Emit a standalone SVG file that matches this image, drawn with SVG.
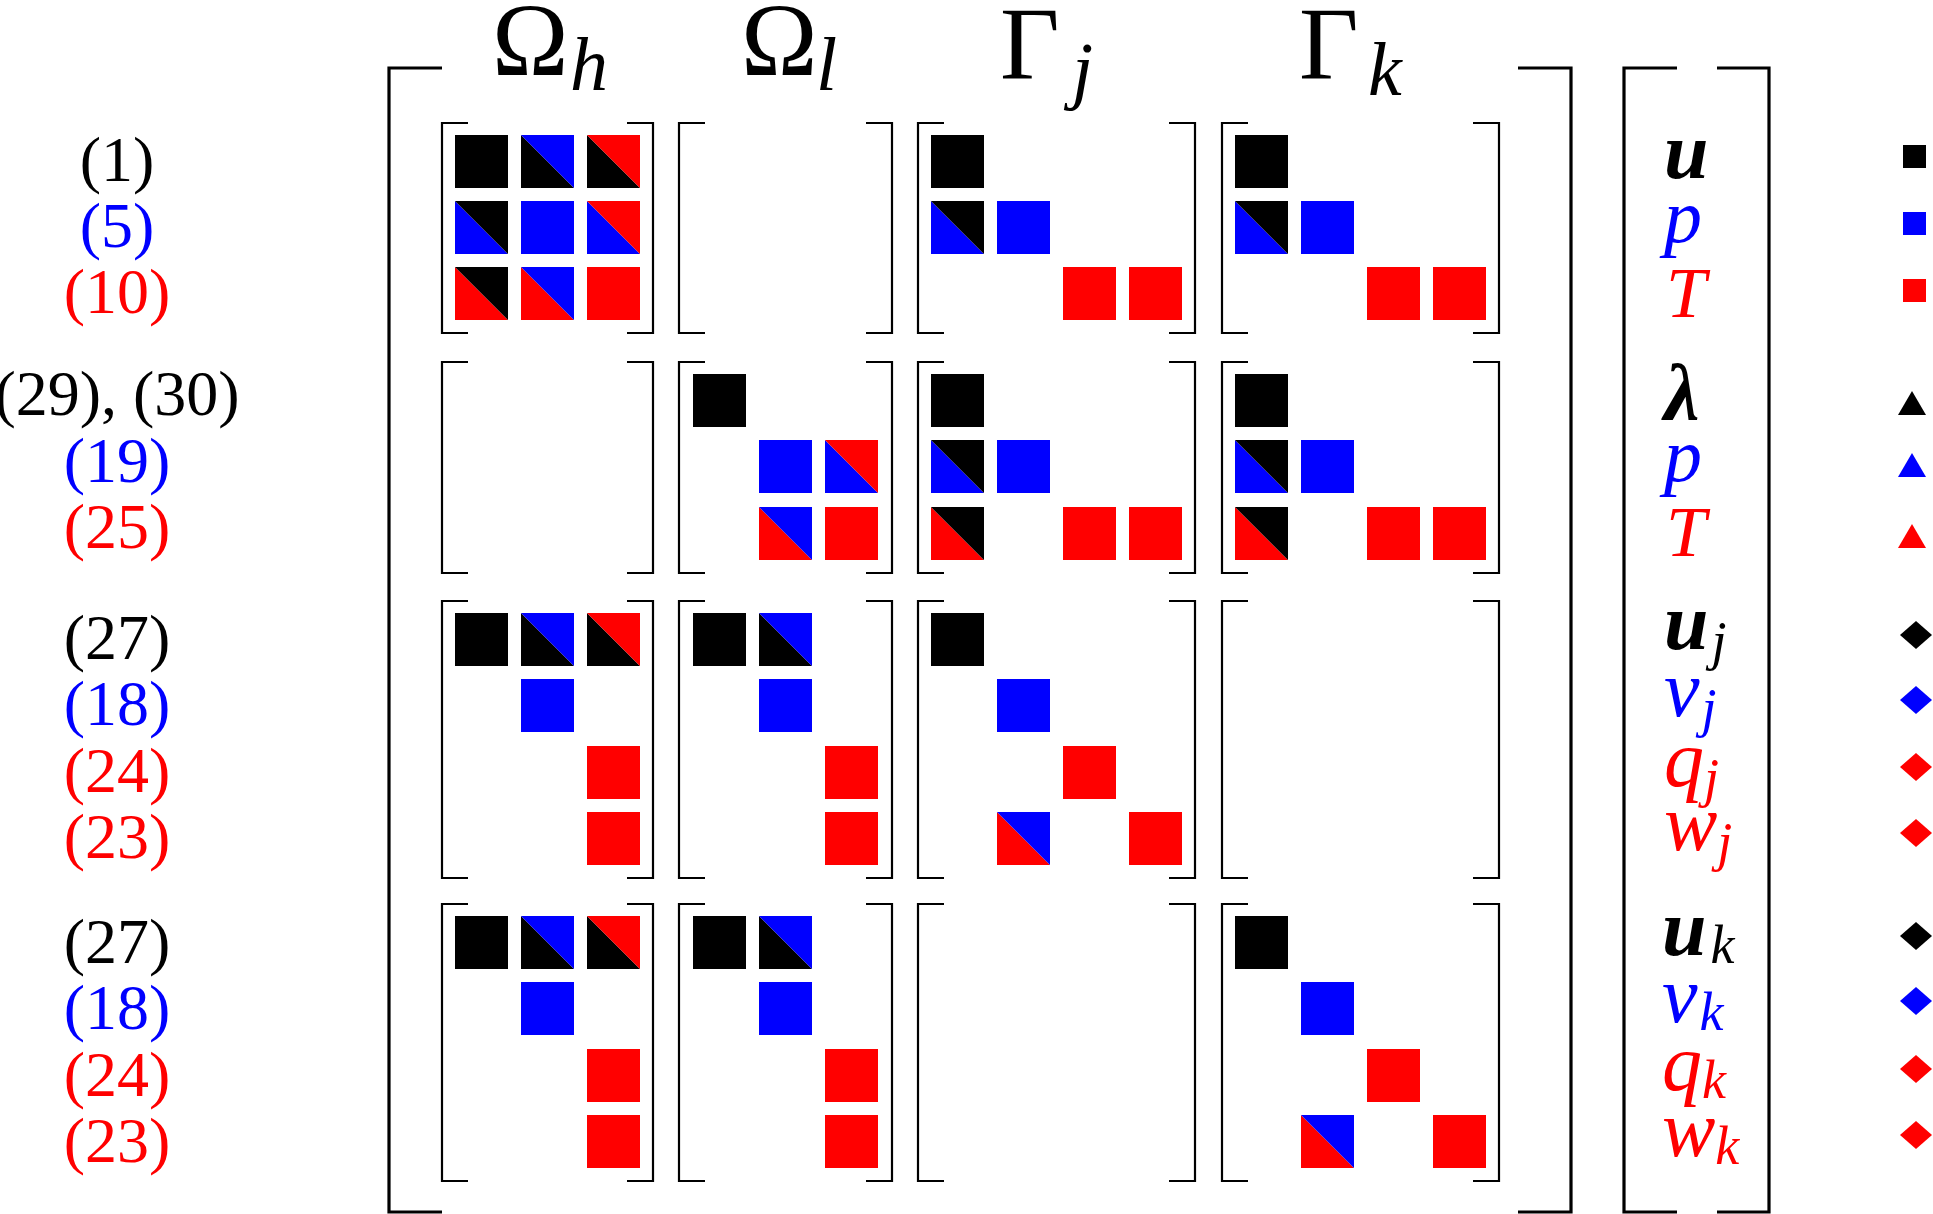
<svg xmlns="http://www.w3.org/2000/svg" xmlns:xlink="http://www.w3.org/1999/xlink" width="1933" height="1214" viewBox="0 0 1933 1214">
<style>
.br{fill:none;stroke:#000;stroke-width:2.2}
.bb{fill:none;stroke:#000;stroke-width:3.2}
.hdr{font-family:"Liberation Serif",serif;font-size:103px;fill:#000}
.hsub{font-family:"Liberation Serif",serif;font-style:italic;font-size:76px;fill:#000}
.eq{font-family:"Liberation Serif",serif;font-size:64px;text-anchor:middle}
.v{font-family:"Liberation Serif",serif;font-style:italic;font-size:80px}
.t{font-size:72px}
.pp{font-size:76px}
.b{font-weight:bold}
.s{font-size:54px;font-weight:normal}
.k{fill:#000}.bl{fill:#0000ff}.r{fill:#ff0000}
</style>
<defs>
<rect id="K" width="53" height="53" fill="#000"/>
<rect id="B" width="53" height="53" fill="#0000ff"/>
<rect id="R" width="53" height="53" fill="#ff0000"/>
<g id="KB"><polygon points="0,0 0,53 53,53" fill="#000"/><polygon points="0,0 53,0 53,53" fill="#0000ff"/></g>
<g id="KR"><polygon points="0,0 0,53 53,53" fill="#000"/><polygon points="0,0 53,0 53,53" fill="#ff0000"/></g>
<g id="BK"><polygon points="0,0 0,53 53,53" fill="#0000ff"/><polygon points="0,0 53,0 53,53" fill="#000"/></g>
<g id="BR"><polygon points="0,0 0,53 53,53" fill="#0000ff"/><polygon points="0,0 53,0 53,53" fill="#ff0000"/></g>
<g id="RK"><polygon points="0,0 0,53 53,53" fill="#ff0000"/><polygon points="0,0 53,0 53,53" fill="#000"/></g>
<g id="RB"><polygon points="0,0 0,53 53,53" fill="#ff0000"/><polygon points="0,0 53,0 53,53" fill="#0000ff"/></g>
</defs>
<rect width="1933" height="1214" fill="#fff"/>

<g id="headers">
<text class="hdr" x="492" y="75">Ω</text><text class="hsub" x="570" y="90">h</text>
<text class="hdr" x="741" y="75">Ω</text><text class="hsub" x="816" y="90">l</text>
<text class="hdr" x="1000" y="79">Γ</text><text class="hsub" x="1072" y="95">j</text>
<text class="hdr" x="1299" y="79">Γ</text><text class="hsub" x="1368" y="95">k</text>
</g>

<g id="outer-brackets">
<path class="bb" d="M442,68 H389 V1212 H442"/>
<path class="bb" d="M1518,68 H1571 V1212 H1518"/>
<path class="bb" d="M1677,68 H1624 V1212 H1677"/>
<path class="bb" d="M1717,68 H1769 V1212 H1717"/>
</g>

<g id="m-r1-oh">
<path class="br" d="M468,123 H442 V333 H468 M627,123 H653 V333 H627"/>
<use href="#K" x="455" y="135"/><use href="#KB" x="521" y="135"/><use href="#KR" x="587" y="135"/>
<use href="#BK" x="455" y="201"/><use href="#B" x="521" y="201"/><use href="#BR" x="587" y="201"/>
<use href="#RK" x="455" y="267"/><use href="#RB" x="521" y="267"/><use href="#R" x="587" y="267"/>
</g>
<g id="m-r1-ol">
<path class="br" d="M705,123 H679 V333 H705 M866,123 H892 V333 H866"/>
</g>
<g id="m-r1-gj">
<path class="br" d="M944,123 H918 V333 H944 M1169,123 H1195 V333 H1169"/>
<use href="#K" x="931" y="135"/><use href="#BK" x="931" y="201"/><use href="#B" x="997" y="201"/>
<use href="#R" x="1063" y="267"/><use href="#R" x="1129" y="267"/>
</g>
<g id="m-r1-gk">
<path class="br" d="M1248,123 H1222 V333 H1248 M1473,123 H1499 V333 H1473"/>
<use href="#K" x="1235" y="135"/><use href="#BK" x="1235" y="201"/><use href="#B" x="1301" y="201"/>
<use href="#R" x="1367" y="267"/><use href="#R" x="1433" y="267"/>
</g>

<g id="m-r2-oh">
<path class="br" d="M468,362 H442 V573 H468 M627,362 H653 V573 H627"/>
</g>
<g id="m-r2-ol">
<path class="br" d="M705,362 H679 V573 H705 M866,362 H892 V573 H866"/>
<use href="#K" x="693" y="374"/><use href="#B" x="759" y="440"/><use href="#BR" x="825" y="440"/>
<use href="#RB" x="759" y="507"/><use href="#R" x="825" y="507"/>
</g>
<g id="m-r2-gj">
<path class="br" d="M944,362 H918 V573 H944 M1169,362 H1195 V573 H1169"/>
<use href="#K" x="931" y="374"/><use href="#BK" x="931" y="440"/><use href="#B" x="997" y="440"/>
<use href="#RK" x="931" y="507"/><use href="#R" x="1063" y="507"/><use href="#R" x="1129" y="507"/>
</g>
<g id="m-r2-gk">
<path class="br" d="M1248,362 H1222 V573 H1248 M1473,362 H1499 V573 H1473"/>
<use href="#K" x="1235" y="374"/><use href="#BK" x="1235" y="440"/><use href="#B" x="1301" y="440"/>
<use href="#RK" x="1235" y="507"/><use href="#R" x="1367" y="507"/><use href="#R" x="1433" y="507"/>
</g>

<g id="m-r3-oh">
<path class="br" d="M468,601 H442 V878 H468 M627,601 H653 V878 H627"/>
<use href="#K" x="455" y="613"/><use href="#KB" x="521" y="613"/><use href="#KR" x="587" y="613"/>
<use href="#B" x="521" y="679"/><use href="#R" x="587" y="746"/><use href="#R" x="587" y="812"/>
</g>
<g id="m-r3-ol">
<path class="br" d="M705,601 H679 V878 H705 M866,601 H892 V878 H866"/>
<use href="#K" x="693" y="613"/><use href="#KB" x="759" y="613"/>
<use href="#B" x="759" y="679"/><use href="#R" x="825" y="746"/><use href="#R" x="825" y="812"/>
</g>
<g id="m-r3-gj">
<path class="br" d="M944,601 H918 V878 H944 M1169,601 H1195 V878 H1169"/>
<use href="#K" x="931" y="613"/><use href="#B" x="997" y="679"/><use href="#R" x="1063" y="746"/>
<use href="#RB" x="997" y="812"/><use href="#R" x="1129" y="812"/>
</g>
<g id="m-r3-gk">
<path class="br" d="M1248,601 H1222 V878 H1248 M1473,601 H1499 V878 H1473"/>
</g>

<g id="m-r4-oh">
<path class="br" d="M468,904 H442 V1181 H468 M627,904 H653 V1181 H627"/>
<use href="#K" x="455" y="916"/><use href="#KB" x="521" y="916"/><use href="#KR" x="587" y="916"/>
<use href="#B" x="521" y="982"/><use href="#R" x="587" y="1049"/><use href="#R" x="587" y="1115"/>
</g>
<g id="m-r4-ol">
<path class="br" d="M705,904 H679 V1181 H705 M866,904 H892 V1181 H866"/>
<use href="#K" x="693" y="916"/><use href="#KB" x="759" y="916"/>
<use href="#B" x="759" y="982"/><use href="#R" x="825" y="1049"/><use href="#R" x="825" y="1115"/>
</g>
<g id="m-r4-gj">
<path class="br" d="M944,904 H918 V1181 H944 M1169,904 H1195 V1181 H1169"/>
</g>
<g id="m-r4-gk">
<path class="br" d="M1248,904 H1222 V1181 H1248 M1473,904 H1499 V1181 H1473"/>
<use href="#K" x="1235" y="916"/><use href="#B" x="1301" y="982"/><use href="#R" x="1367" y="1049"/>
<use href="#RB" x="1301" y="1115"/><use href="#R" x="1433" y="1115"/>
</g>

<g id="equation-labels">
<text class="eq k" x="117" y="181">(1)</text>
<text class="eq bl" x="117" y="247">(5)</text>
<text class="eq r" x="117" y="313">(10)</text>
<text class="eq k" x="117" y="415">(29), (30)</text>
<text class="eq bl" x="117" y="482">(19)</text>
<text class="eq r" x="117" y="548">(25)</text>
<text class="eq k" x="117" y="659">(27)</text>
<text class="eq bl" x="117" y="725">(18)</text>
<text class="eq r" x="117" y="792">(24)</text>
<text class="eq r" x="117" y="858">(23)</text>
<text class="eq k" x="117" y="963">(27)</text>
<text class="eq bl" x="117" y="1029">(18)</text>
<text class="eq r" x="117" y="1096">(24)</text>
<text class="eq r" x="117" y="1162">(23)</text>
</g>

<g id="unknowns">
<text class="v b k" x="1664" y="178">u</text>
<text class="v pp bl" x="1664" y="242">p</text>
<text class="v t r" x="1666" y="317">T</text>
<text class="v b k" x="1664" y="419">λ</text>
<text class="v pp bl" x="1664" y="481">p</text>
<text class="v t r" x="1666" y="556">T</text>
<text class="v k" x="1664" y="649"><tspan class="b">u</tspan><tspan class="s" dx="3" dy="10">j</tspan></text>
<text class="v bl" x="1664" y="716">v<tspan class="s" dx="2" dy="10">j</tspan></text>
<text class="v r" x="1664" y="786">q<tspan class="s" dy="10">j</tspan></text>
<text class="v r" x="1664" y="850">w<tspan class="s" dy="10">j</tspan></text>
<text class="v k" x="1662" y="955"><tspan class="b">u</tspan><tspan class="s" dx="4" dy="8">k</tspan></text>
<text class="v bl" x="1662" y="1022">v<tspan class="s" dx="2" dy="8">k</tspan></text>
<text class="v r" x="1662" y="1090">q<tspan class="s" dy="8">k</tspan></text>
<text class="v r" x="1662" y="1156">w<tspan class="s" dy="8">k</tspan></text>
</g>

<g id="legend">
<rect x="1903" y="145" width="23" height="23" fill="#000"/>
<rect x="1903" y="212" width="23" height="23" fill="#0000ff"/>
<rect x="1903" y="279" width="23" height="23" fill="#ff0000"/>
<polygon points="1898,415 1926,415 1912,391" fill="#000"/>
<polygon points="1898,477 1926,477 1912,453" fill="#0000ff"/>
<polygon points="1898,548 1926,548 1912,524" fill="#ff0000"/>
<polygon points="1900,635 1916,621 1932,635 1916,649" fill="#000"/>
<polygon points="1900,700 1916,686 1932,700 1916,714" fill="#0000ff"/>
<polygon points="1900,767 1916,753 1932,767 1916,781" fill="#ff0000"/>
<polygon points="1900,833 1916,819 1932,833 1916,847" fill="#ff0000"/>
<polygon points="1900,936 1916,922 1932,936 1916,950" fill="#000"/>
<polygon points="1900,1001 1916,987 1932,1001 1916,1015" fill="#0000ff"/>
<polygon points="1900,1069 1916,1055 1932,1069 1916,1083" fill="#ff0000"/>
<polygon points="1900,1135 1916,1121 1932,1135 1916,1149" fill="#ff0000"/>
</g>
</svg>
